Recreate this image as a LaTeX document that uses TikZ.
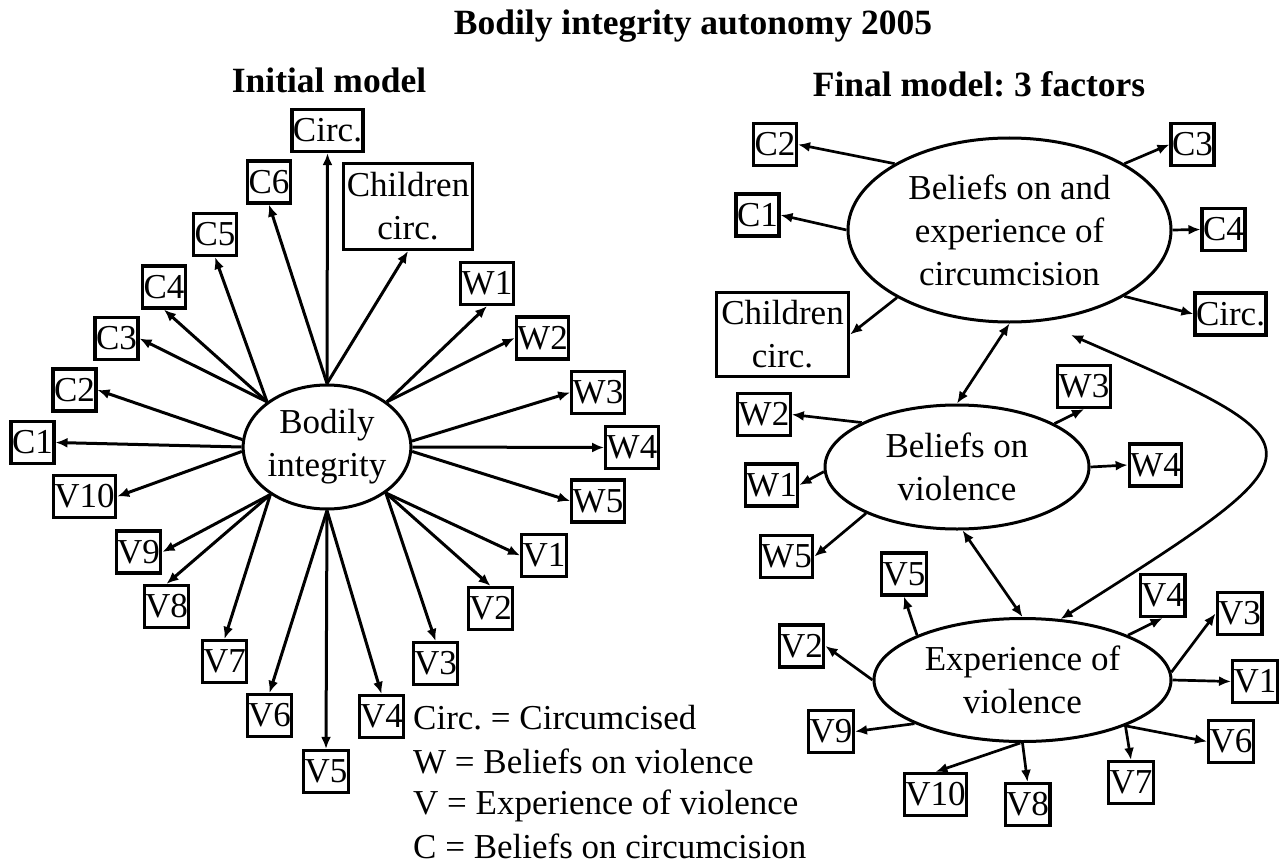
\documentclass[tikz,border=0pt]{standalone}
\usepackage{fontspec}
\setmainfont{Liberation Serif}
\usetikzlibrary{shapes.geometric,arrows.meta}

\begin{document}
\frenchspacing
\begin{tikzpicture}[x=1pt,y=-1pt,
  txt/.style={font=\fontsize{35}{43}\selectfont},
  head/.style={font=\bfseries\fontsize{35.5}{40}\selectfont, anchor=base, inner sep=0pt},
  box/.style={draw, line width=3.2pt, inner xsep=1pt, inner ysep=0pt,
              minimum height=42pt, txt},
  bigbox/.style={box, align=center},
  latent/.style={draw, ellipse, line width=3pt, inner sep=0pt, align=center, txt},
  arr/.style={-{Latex[length=12pt,width=10pt]}, line width=3pt},
  arrb/.style={-{Latex[length=12pt,width=10pt]}, line width=2.7pt},
  dbl/.style={{Latex[length=12pt,width=10pt]}-{Latex[length=12pt,width=10pt]}, line width=2.7pt},
  legend/.style={anchor=base west, inner sep=0pt, txt}]

\useasboundingbox (0,0) rectangle (1285,864);

% ---------- headings ----------
\node[head] (title) at (693,35) {Bodily integrity autonomy 2005};
\node[head] (initial) at (329,93) {Initial model};
\node[head] (final) at (979,97) {Final model: 3 factors};

% ---------- initial model: one factor ----------
\node[latent, minimum width=164pt, minimum height=124pt] (lbi) at (327,447) {Bodily\\integrity};

\node[box] (lcirc) at (327.5,130.5) {Circ.};
\node[box] (lc6) at (269,182) {C6};
\node[bigbox, minimum width=129pt, minimum height=86pt] (lchild) at (408,206.5) {Children\\circ.};
\node[box] (lc5) at (215,234.5) {C5};
\node[box] (lc4) at (164,287) {C4};
\node[box] (lc3) at (116.5,338.5) {C3};
\node[box] (lc2) at (74.5,390) {C2};
\node[box] (lc1) at (32.5,442.5) {C1};
\node[box] (lv10) at (84.5,496.5) {V10};
\node[box] (lv9) at (138.5,552) {V9};
\node[box] (lv8) at (166.5,606.5) {V8};
\node[box] (lv7) at (224.5,661.5) {V7};
\node[box] (lv6) at (269.5,715.5) {V6};
\node[box] (lv5) at (326,771.5) {V5};
\node[box] (lv4) at (381.5,716.5) {V4};
\node[box] (lv3) at (435.5,663.5) {V3};
\node[box] (lv2) at (490.5,608.5) {V2};
\node[box] (lv1) at (544,555.5) {V1};
\node[box] (lw5) at (598,501) {W5};
\node[box] (lw4) at (632,447.5) {W4};
\node[box] (lw3) at (598,392.5) {W3};
\node[box] (lw2) at (542.5,338) {W2};
\node[box] (lw1) at (487,283.5) {W1};

\draw[arr] (lbi.north) -- (lcirc.south);
\draw[arr] (lbi.north) -- (lc6.south);
\draw[arr] (lbi.north) -- (lchild.south);
\draw[arr] (lbi.143) -- (lc5.south);
\draw[arr] (lbi.143) -- (lc4.south);
\draw[arr] (lbi.143) -- (lc3.east);
\draw[arr] (lbi.175) -- (lc2.east);
\draw[arr] (lbi.west) -- (lc1.east);
\draw[arr] (lbi.183) -- (lv10.east);
\draw[arr] (lbi.220) -- (lv9.east);
\draw[arr] (lbi.220) -- (lv8.north);
\draw[arr] (lbi.220) -- (lv7.north);
\draw[arr] (lbi.south) -- (lv6.north);
\draw[arr] (lbi.south) -- (lv5.north);
\draw[arr] (lbi.south) -- (lv4.north);
\draw[arr] (lbi.322) -- (lv3.north);
\draw[arr] (lbi.322) -- (lv2.north);
\draw[arr] (lbi.322) -- (lv1.west);
\draw[arr] (lbi.357) -- (lw5.west);
\draw[arr] (lbi.east) -- (lw4.west);
\draw[arr] (lbi.4) -- (lw3.west);
\draw[arr] (lbi.37) -- (lw2.west);
\draw[arr] (lbi.37) -- (lw1.south);

% ---------- legend ----------
\node[legend] (leg1) at (413,729) {Circ. = Circumcised};
\node[legend] (leg2) at (413,773) {W = Beliefs on violence};
\node[legend] (leg3) at (413,814) {V = Experience of violence};
\node[legend] (leg4) at (413,858) {C = Beliefs on circumcision};

% ---------- final model: three factors ----------
\node[latent, minimum width=323pt, minimum height=184pt] (cb) at (1009.5,230) {Beliefs on and\\experience of\\circumcision};
\node[latent, minimum width=264pt, minimum height=124pt] (bov) at (957,467) {Beliefs on\\violence};
\node[latent, minimum width=297pt, minimum height=123pt] (exv) at (1022.5,680) {Experience of\\violence};

\node[box] (rc2) at (775,144.5) {C2};
\node[box] (rc1) at (757.5,215) {C1};
\node[bigbox, minimum width=132pt, minimum height=84pt] (rchild) at (782.5,334.5) {Children\\circ.};
\node[box] (rc3) at (1192.5,144.5) {C3};
\node[box] (rc4) at (1223.5,229.5) {C4};
\node[box] (rcirc) at (1230.5,314) {Circ.};

\node[box] (rw2) at (764,414.5) {W2};
\node[box] (rw1) at (771.5,485) {W1};
\node[box] (rw5) at (786.5,556.5) {W5};
\node[box] (rw3) at (1084,386.5) {W3};
\node[box] (rw4) at (1155.5,465) {W4};

\node[box] (rv5) at (904,574) {V5};
\node[box] (rv2) at (801.5,646) {V2};
\node[box] (rv9) at (831,731.5) {V9};
\node[box] (rv10) at (935.5,794.5) {V10};
\node[box] (rv8) at (1027.5,804.5) {V8};
\node[box] (rv7) at (1131,782.5) {V7};
\node[box] (rv6) at (1231,741.5) {V6};
\node[box] (rv1) at (1255,681.5) {V1};
\node[box] (rv3) at (1239.5,613.5) {V3};
\node[box] (rv4) at (1162.5,595.5) {V4};

\draw[arrb] (cb.150) -- (rc2.east);
\draw[arrb] (cb.west) -- (rc1.east);
\draw[arrb] (cb.211) -- (rchild.east);
\draw[arrb] (cb.30) -- (rc3.west);
\draw[arrb] (cb.east) -- (rc4.west);
\draw[arrb] (cb.330) -- (rcirc.west);

\draw[arrb] (bov.155) -- (rw2.east);
\draw[arrb] (bov.182) -- (rw1.east);
\draw[arrb] (bov.207) -- (rw5.east);
\draw[arrb] (bov.24) -- (rw3.south);
\draw[arrb] (bov.east) -- (rw4.west);

\draw[arrb] (exv.157) -- (rv5.south);
\draw[arrb] (exv.west) -- (rv2.east);
\draw[arrb] (exv.202) -- (rv9.east);
\draw[arrb] (exv.268) -- (rv10.north);
\draw[arrb] (exv.270) -- (rv8.north);
\draw[arrb] (exv.336) -- (rv7.north);
\draw[arrb] (exv.336) -- (rv6.west);
\draw[arrb] (exv.east) -- (rv1.west);
\draw[arrb] (exv.3) -- (rv3.west);
\draw[arrb] (exv.23) -- (rv4.south);

% correlations between the factors
\coordinate (cbgap) at (1071,335);
\draw[dbl] (cb.south) -- (bov.north);
\draw[dbl] (bov.275) -- (exv.north);
\draw[dbl] (exv.58) .. controls (1330,448) and (1330,448) .. (cbgap);

\end{tikzpicture}
\end{document}
